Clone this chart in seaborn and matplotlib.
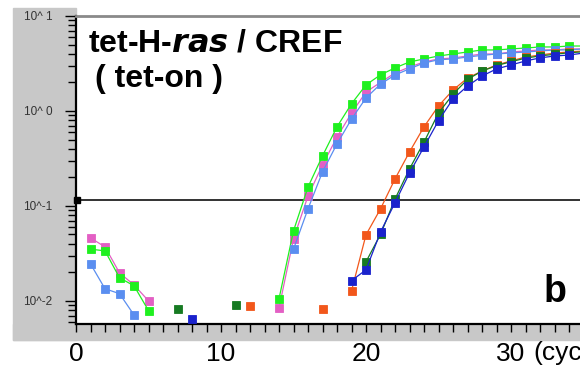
import matplotlib.pyplot as plt
import matplotlib.patches as mpatches
import numpy as np
import pandas as pd
import seaborn as sns

# cycles / fluorescence; each run is split into segments
pink_cyc = [[1, 2, 3, 4, 5],
            list(range(14, 36))]
pink_val = [[0.046, 0.037, 0.0197, 0.0147, 0.010],
            [0.0084, 0.045, 0.127, 0.27, 0.53, 0.95, 1.58, 2.0, 2.51, 2.9, 3.28,
             3.53, 3.61, 3.79, 3.98, 3.98, 4.18, 4.28, 4.39, 4.39, 4.5, 4.5]]

green_cyc = [[1, 2, 3, 4, 5],
             list(range(14, 36))]
green_val = [[0.035, 0.0336, 0.0175, 0.0144, 0.0079],
             [0.0105, 0.0546, 0.158, 0.336, 0.68, 1.19, 1.88, 2.4, 2.84, 3.28, 3.53,
              3.79, 3.98, 4.18, 4.39, 4.39, 4.5, 4.6, 4.72, 4.72, 4.83, 4.83]]

lblue_cyc = [[1, 2, 3, 4],
             list(range(15, 36))]
lblue_val = [[0.0245, 0.0134, 0.0119, 0.0071],
             [0.035, 0.093, 0.228, 0.45, 0.82, 1.37, 1.92, 2.39, 2.78, 3.2,
              3.46, 3.53, 3.7, 3.85, 3.98, 4.08, 4.18, 4.28, 4.39, 4.39, 4.5]]

orange_cyc = [[12], [17],
              list(range(19, 36))]
orange_val = [[0.0089], [0.0082],
              [0.0127, 0.0496, 0.093, 0.192, 0.37, 0.68, 1.13, 1.66, 2.22, 2.63,
               3.05, 3.36, 3.7, 3.88, 4.07, 4.18, 4.28]]

dgreen_cyc = [[7], [11],
              list(range(20, 36))]
dgreen_val = [[0.0082], [0.0091],
              [0.0258, 0.05, 0.118, 0.245, 0.47, 0.95, 1.5, 2.15, 2.63, 3.0,
               3.3, 3.6, 3.8, 3.95, 4.1, 4.2]]

dblue_cyc = [[8],
             list(range(19, 36))]
dblue_val = [[0.0065],
             [0.0163, 0.0212, 0.053, 0.108, 0.222, 0.418, 0.79, 1.34, 1.83, 2.33,
              2.77, 3.05, 3.36, 3.62, 3.79, 3.88, 4.07]]

threshold = 0.116

series = {
    "pink": (pink_cyc, pink_val, "#e35fc4"),
    "green": (green_cyc, green_val, "#1ff01f"),
    "lblue": (lblue_cyc, lblue_val, "#5a8ef0"),
    "orange": (orange_cyc, orange_val, "#f2571b"),
    "dgreen": (dgreen_cyc, dgreen_val, "#167a22"),
    "dblue": (dblue_cyc, dblue_val, "#1a22cc"),
}

rows = []
for name, (cycs, vals, _) in series.items():
    for i, (c, v) in enumerate(zip(cycs, vals)):
        for cc, vv in zip(c, v):
            rows.append({"cycle": cc, "value": vv, "series": name, "seg": f"{name}{i}"})
df = pd.DataFrame(rows)
palette = {k: v[2] for k, v in series.items()}

sns.set_theme(style="white")
plt.rcParams["font.family"] = ["Liberation Sans", "DejaVu Sans"]
plt.rcParams["text.color"] = "black"
plt.rcParams["xtick.color"] = "black"
plt.rcParams["ytick.color"] = "black"

fig = plt.figure(figsize=(5.8, 3.68), dpi=100)
fig.patch.set_facecolor("white")

# grey frame: left strip and bottom band
grey = "#c8c8c8"
fig.patches.append(mpatches.Rectangle((13 / 580, 1 - 340 / 368), 63 / 580, (340 - 8) / 368,
                                      transform=fig.transFigure, color=grey, zorder=-5))
fig.patches.append(mpatches.Rectangle((13 / 580, 1 - 340 / 368), 1, 16 / 368,
                                      transform=fig.transFigure, color=grey, zorder=-5))

ax = fig.add_axes([76 / 580, 1 - 324 / 368, 1 - 76 / 580, (324 - 16) / 368])
ax.set_zorder(1)
ax.set_facecolor("white")

sns.lineplot(data=df, x="cycle", y="value", hue="series", units="seg",
             estimator=None, palette=palette, marker="s", markersize=5.5,
             markeredgewidth=0.6, linewidth=0.9, legend=False, ax=ax, zorder=3)
for ln in ax.lines:
    ln.set_markeredgecolor(ln.get_color())

ax.axhline(threshold, color="#222222", lw=1.3, zorder=2)
ax.plot([0.05], [threshold], marker="s", color="black", markersize=4, clip_on=False,
        zorder=5)

ax.set_yscale("log")
ax.set_ylim(0.0057, 10)
ax.set_xlim(0, (580 - 76) / 14.5)

ax.set_xticks(np.arange(0, 35, 1), minor=True)
ax.set_xticks([0, 10, 20, 30])
ax.set_xticklabels(["0", "10", "20", "30"], fontsize=19)
ax.tick_params(axis="x", which="both", direction="out", length=6, width=1,
               color="black", labelcolor="black", bottom=True, pad=7)
ax.set_yticks([0.01, 0.1, 1, 10])
ax.set_yticklabels(["10^-2", "10^-1", "10^ 0", "10^ 1"], fontsize=8.5)
ax.tick_params(axis="y", which="major", direction="out", length=8, width=1,
               color="black", labelcolor="#333333", left=True, pad=9)
ax.tick_params(axis="y", which="minor", direction="out", length=6, width=1,
               color="black", left=True)
ax.set_xlabel("")
ax.set_ylabel("")

for s in ["left", "bottom"]:
    ax.spines[s].set_color("black")
    ax.spines[s].set_linewidth(1.6)
ax.spines["top"].set_color("#8a8a8a")
ax.spines["top"].set_linewidth(2)
ax.spines["right"].set_visible(False)

fig.text(533 / 580, 1 - 353 / 368, "(cycles)", fontsize=19, va="center", ha="left",
         color="black")

ax.text(88 / 580, 1 - 43 / 368, r"tet-H-$\bfit{ras}$ / CREF", transform=fig.transFigure,
        fontsize=23, fontweight="bold", va="center", ha="left", color="black")
ax.text(95 / 580, 1 - 79 / 368, "( tet-on )", transform=fig.transFigure,
        fontsize=23, fontweight="bold", va="center", ha="left", color="black")
ax.text(555 / 580, 1 - 292 / 368, "b", transform=fig.transFigure,
        fontsize=27, fontweight="bold", va="center", ha="center", color="black")

fig.savefig("out.png", dpi=100)
